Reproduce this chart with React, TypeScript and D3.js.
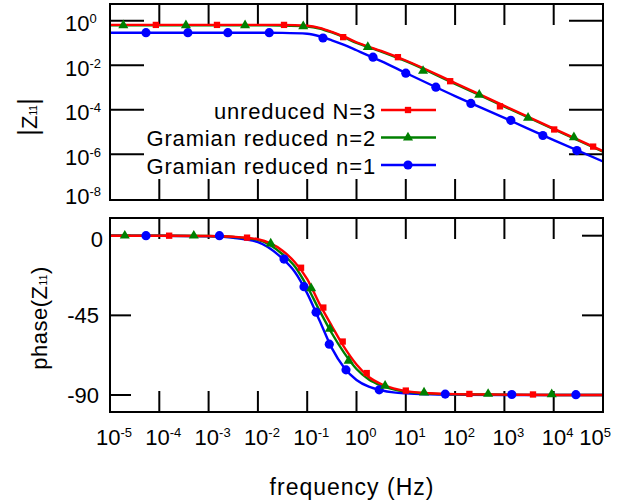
import React from "react";
import * as d3 from "d3";

// frequency samples are log10(f), magnitudes are log10(|Z11|), phase in degrees
const magF = [-5, -4, -3, -2, -1.5, -1, -0.75, -0.5, -0.25, 0, 0.5, 1, 2, 3, 4, 5];
const redMag = [-0.19, -0.19, -0.19, -0.19, -0.19, -0.23, -0.32, -0.5, -0.72, -0.97, -1.36, -1.79, -2.8, -3.83, -4.85, -5.86];
const greenMag = [-0.21, -0.21, -0.21, -0.21, -0.22, -0.26, -0.35, -0.53, -0.75, -1.0, -1.39, -1.82, -2.84, -3.86, -4.88, -5.89];
const blueMag = [-0.54, -0.54, -0.54, -0.54, -0.55, -0.59, -0.7, -0.88, -1.09, -1.33, -1.82, -2.35, -3.39, -4.37, -5.37, -6.33];

const redMagMkF = [-4.07, -2.83, -1.47, -0.27, 0.84, 1.9, 2.91, 4.01, 4.8];
const redMagMkV = [-0.19, -0.19, -0.19, -0.74, -1.64, -2.72, -3.85, -4.89, -5.66];
const greenMagMkF = [-4.73, -3.46, -2.26, -1.08, 0.23, 1.35, 2.49, 3.48, 4.41];
const greenMagMkV = [-0.21, -0.21, -0.21, -0.25, -1.19, -2.26, -3.33, -4.37, -5.24];
const blueMagMkF = [-4.27, -3.42, -2.61, -1.77, -0.68, 0.335, 1.0, 1.61, 2.32, 3.13, 3.78, 4.47];
const blueMagMkV = [-0.54, -0.54, -0.54, -0.54, -0.78, -1.64, -2.36, -2.99, -3.72, -4.48, -5.16, -5.84];

const phF = [-5, -4, -3, -2.5, -2, -1.5, -1.25, -1, -0.75, -0.5, -0.25, 0, 0.25, 0.5, 0.75, 1, 1.5, 2, 3, 4, 5];
const redPh = [0, 0, -0.2, -0.6, -2, -8.5, -15, -24.5, -38.5, -51, -63, -72.8, -79.8, -83.8, -86.3, -87.8, -89, -89.5, -89.8, -90, -90];
const greenPh = [0, 0, -0.2, -0.7, -2.4, -10.5, -17.4, -28.7, -42.3, -55.1, -66.2, -75.3, -81.2, -84.6, -86.8, -88.1, -89.2, -89.6, -89.8, -90, -90];
const bluePh = [0, 0, -0.4, -1.2, -3.6, -13, -20.5, -32.6, -47.9, -63.5, -74.6, -81.5, -85.3, -87.3, -88.5, -89.1, -89.6, -89.8, -90, -90, -90];

const redPhMkF = [-3.8, -2.22, -1.125, -0.673, -0.28, 0.207, 1.0, 2.29, 3.58];
const redPhMkV = [0, -1.1, -18.1, -40.6, -59.8, -77.6, -87.5, -89.4, -89.7];
const greenPhMkF = [-4.7, -3.3, -1.74, -0.92, -0.54, -0.16, 0.58, 1.37, 2.67, 3.96];
const greenPhMkV = [0, 0, -4.5, -29.7, -52.6, -70.7, -84.8, -88.6, -89.4, -89.6];
const bluePhMkF = [-4.27, -2.78, -1.47, -1.065, -0.82, -0.552, -0.213, 0.46, 1.8, 3.15, 4.45];
const bluePhMkV = [0, 0, -13.2, -28.8, -43.2, -61.3, -75.8, -87.1, -89.5, -89.7, -89.8];

const xDecades = [-5, -4, -3, -2, -1, 0, 1, 2, 3, 4, 5];
const magDecades = [0, -2, -4, -6, -8];
const phTicks = [0, -45, -90];

const legendNames = ["unreduced N=3", "Gramian reduced n=2", "Gramian reduced n=1"];
const colors = ["#ff0000", "#008000", "#0000ff"];

const FONT = "'Liberation Sans', Arial, Helvetica, sans-serif";

const x = d3.scaleLog().domain([1e-5, 1e5]).range([110, 603]);
const yMag = d3.scaleLog().domain([10 ** -8.06, 10 ** 0.75]).range([200, 4]);
const yPh = d3.scaleLinear().domain([-99.6, 10]).range([412, 218]);

const zip = (a: number[], b: number[]) => a.map((v, i) => [v, b[i]] as [number, number]);

const magLine = d3
  .line<[number, number]>()
  .x((d) => x(10 ** d[0]))
  .y((d) => yMag(10 ** d[1]))
  .curve(d3.curveMonotoneX);
const phLine = d3
  .line<[number, number]>()
  .x((d) => x(10 ** d[0]))
  .y((d) => yPh(d[1]))
  .curve(d3.curveMonotoneX);

const symbols = [
  d3.symbol().type(d3.symbolSquare).size(40)(),
  d3.symbol().type(d3.symbolTriangle).size(44)(),
  d3.symbol().type(d3.symbolCircle).size(66)(),
];

const Markers = ({ pts, sym, color }: { pts: [number, number][]; sym: number; color: string }) => (
  <g fill={color}>
    {pts.map((p, i) => (
      <path key={i} d={symbols[sym] as string} transform={`translate(${p[0]},${p[1]})`} />
    ))}
  </g>
);

export default function App() {
  const magSeries = [
    { line: zip(magF, redMag), mk: zip(redMagMkF, redMagMkV) },
    { line: zip(magF, greenMag), mk: zip(greenMagMkF, greenMagMkV) },
    { line: zip(magF, blueMag), mk: zip(blueMagMkF, blueMagMkV) },
  ];
  const phSeries = [
    { line: zip(phF, redPh), mk: zip(redPhMkF, redPhMkV) },
    { line: zip(phF, greenPh), mk: zip(greenPhMkF, greenPhMkV) },
    { line: zip(phF, bluePh), mk: zip(bluePhMkF, bluePhMkV) },
  ];
  const order = [2, 1, 0]; // blue underneath, red on top

  return (
    <svg width={624} height={502} style={{ position: "absolute", left: 0, top: 0, background: "#fff" }} fontFamily={FONT}>
      <defs>
        <clipPath id="clipTop">
          <rect x={110} y={4} width={493} height={196} />
        </clipPath>
        <clipPath id="clipBot">
          <rect x={110} y={218} width={493} height={194} />
        </clipPath>
      </defs>

      {/* ticks */}
      <g stroke="#000" strokeWidth={2}>
        {xDecades.slice(1, -1).map((d) => {
          const px = x(10 ** d);
          return (
            <g key={d}>
              <line x1={px} x2={px} y1={4} y2={25} />
              <line x1={px} x2={px} y1={200} y2={179} />
              <line x1={px} x2={px} y1={218} y2={239} />
              <line x1={px} x2={px} y1={412} y2={391} />
            </g>
          );
        })}
        {magDecades.slice(0, 4).map((d) => {
          const py = yMag(10 ** d);
          return (
            <g key={d}>
              <line x1={110} x2={144} y1={py} y2={py} />
              <line x1={603} x2={569} y1={py} y2={py} />
            </g>
          );
        })}
        {phTicks.map((d) => {
          const py = yPh(d);
          return (
            <g key={d}>
              <line x1={110} x2={131} y1={py} y2={py} />
              <line x1={603} x2={582} y1={py} y2={py} />
            </g>
          );
        })}
      </g>

      {/* magnitude panel data */}
      <g clipPath="url(#clipTop)">
        {order.map((i) => (
          <path key={i} d={magLine(magSeries[i].line) as string} fill="none" stroke={colors[i]} strokeWidth={2.4} />
        ))}
      </g>
      {order.map((i) => (
        <Markers
          key={i}
          sym={i}
          color={colors[i]}
          pts={magSeries[i].mk.map((d) => [x(10 ** d[0]), yMag(10 ** d[1])] as [number, number])}
        />
      ))}

      {/* phase panel data */}
      <g clipPath="url(#clipBot)">
        {order.map((i) => (
          <path key={i} d={phLine(phSeries[i].line) as string} fill="none" stroke={colors[i]} strokeWidth={2.4} />
        ))}
      </g>
      {order.map((i) => (
        <Markers
          key={i}
          sym={i}
          color={colors[i]}
          pts={phSeries[i].mk.map((d) => [x(10 ** d[0]), yPh(d[1])] as [number, number])}
        />
      ))}

      {/* frames */}
      <rect x={110} y={4} width={493} height={196} fill="none" stroke="#000" strokeWidth={2} />
      <rect x={110} y={218} width={493} height={194} fill="none" stroke="#000" strokeWidth={2} />

      {/* legend */}
      {legendNames.map((name, i) => {
        const ly = 110 + i * 27.5;
        return (
          <g key={name}>
            <text x={376} y={ly + 8.5} textAnchor="end" fontSize={22} letterSpacing={0.85}>
              {name}
            </text>
            <line x1={381} x2={436} y1={ly} y2={ly} stroke={colors[i]} strokeWidth={2.4} />
            <path d={symbols[i] as string} fill={colors[i]} transform={`translate(408,${ly})`} />
          </g>
        );
      })}

      {/* y tick labels, magnitude */}
      {magDecades.map((d) => (
        <text key={d} x={65} y={Math.min(yMag(10 ** d), 193) + 10.5} fontSize={22}>
          10
          <tspan dy={-8} fontSize={13}>
            {d}
          </tspan>
        </text>
      ))}

      {/* y tick labels, phase */}
      {phTicks.map((d) => (
        <text key={d} x={d === 0 ? 103 : 99} y={yPh(d) + (d === 0 ? 11.5 : 7.8)} textAnchor="end" fontSize={22}>
          {d}
        </text>
      ))}

      {/* x tick labels */}
      {xDecades.map((d) => (
        <text key={d} x={Math.min(x(10 ** d) + 4, 595)} y={445} textAnchor="middle" fontSize={22}>
          10
          <tspan dy={-8} fontSize={13}>
            {d}
          </tspan>
        </text>
      ))}

      {/* axis titles */}
      <text transform="translate(37,117) rotate(-90)" textAnchor="middle" fontSize={22}>
        <tspan fontSize={27}>|</tspan>Z<tspan fontSize={10}>11</tspan>
        <tspan fontSize={27}>|</tspan>
      </text>
      <text transform="translate(47,318) rotate(-90)" textAnchor="middle" fontSize={22} letterSpacing={0.5}>
        phase(Z<tspan fontSize={10}>11</tspan>)
      </text>
      <text x={352} y={495} textAnchor="middle" fontSize={23} letterSpacing={1}>
        frequency (Hz)
      </text>
    </svg>
  );
}
